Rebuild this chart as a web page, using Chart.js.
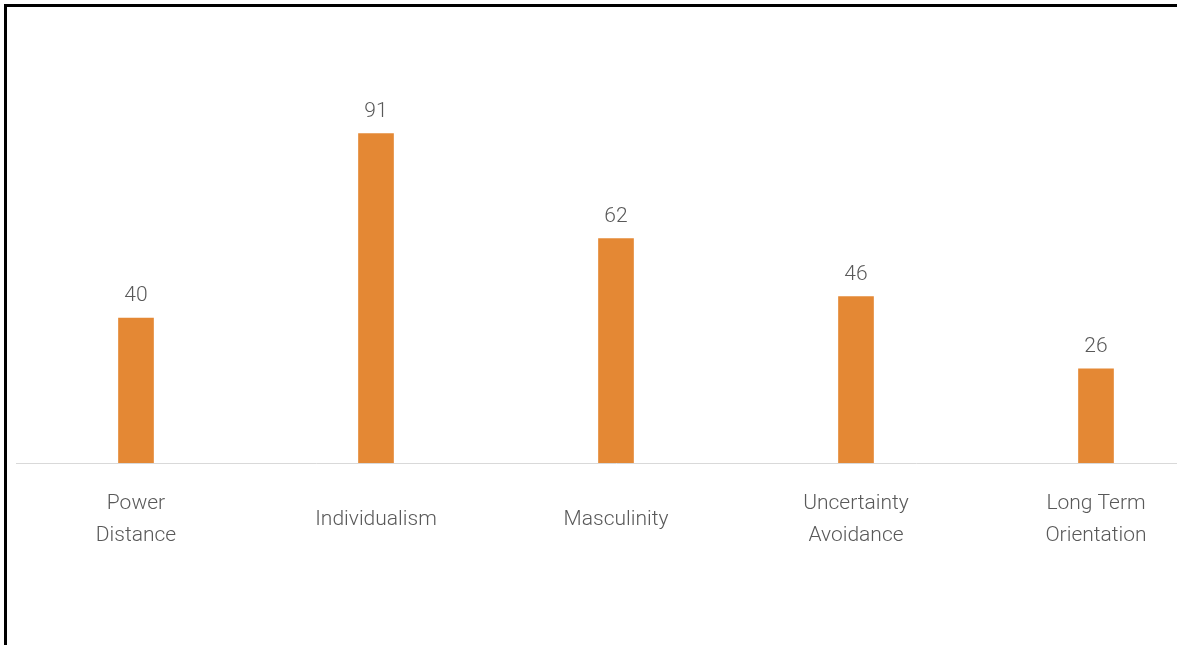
<!DOCTYPE html>
<html>
<head>
<meta charset="utf-8">
<script src="https://cdn.jsdelivr.net/npm/chart.js@4/dist/chart.umd.min.js"></script>
<style>
  html, body { margin: 0; padding: 0; background: #fff; overflow: hidden; width: 1177px; height: 645px; }
  #frame {
    position: absolute; left: 4px; top: 4px;
    border-top: 3px solid #000; border-left: 3px solid #000;
    width: 1400px; height: 700px; background: #fff;
  }
  canvas { display: block; }
</style>
</head>
<body>
<div id="frame"><canvas id="chart" width="1220" height="638"></canvas></div>
<script>
// Hofstede cultural dimension scores
const categories = [
  ['Power', 'Distance'],
  'Individualism',
  'Masculinity',
  ['Uncertainty', 'Avoidance'],
  ['Long Term', 'Orientation']
];
const scores = [40, 91, 62, 46, 26];

const textColor = '#595959';
const fontFamily = 'Roboto, "Noto Sans", sans-serif';

// Draws each bar's value just above the bar
const valueLabels = {
  id: 'valueLabels',
  afterDatasetsDraw(chart) {
    const { ctx } = chart;
    const meta = chart.getDatasetMeta(0);
    ctx.save();
    ctx.fillStyle = textColor;
    ctx.font = '300 21px ' + fontFamily;
    ctx.textAlign = 'center';
    ctx.textBaseline = 'middle';
    meta.data.forEach((bar, i) => {
      const v = chart.data.datasets[0].data[i];
      ctx.fillText(String(v), bar.x, bar.y - 22);
    });
    ctx.restore();
  }
};

new Chart(document.getElementById('chart'), {
  type: 'bar',
  data: {
    labels: categories,
    datasets: [{
      data: scores,
      backgroundColor: '#E48834',
      borderWidth: 0,
      barThickness: 35
    }]
  },
  options: {
    responsive: false,
    animation: false,
    devicePixelRatio: 1,
    layout: { padding: { left: 9, right: 11, top: 94, bottom: 82 } },
    plugins: { legend: { display: false }, tooltip: { enabled: false } },
    scales: {
      y: { display: false, min: 0, max: 100 },
      x: {
        grid: { display: false, drawTicks: false },
        border: { display: true, color: '#d9d9d9', width: 1 },
        afterFit(scale) { scale.height = 100; },
        ticks: {
          autoSkip: false,
          maxRotation: 0,
          minRotation: 0,
          padding: 41,
          crossAlign: 'center',
          color: textColor,
          font: { family: fontFamily, size: 21, weight: 300, lineHeight: '32px' }
        }
      }
    }
  },
  plugins: [valueLabels]
});
</script>
</body>
</html>
